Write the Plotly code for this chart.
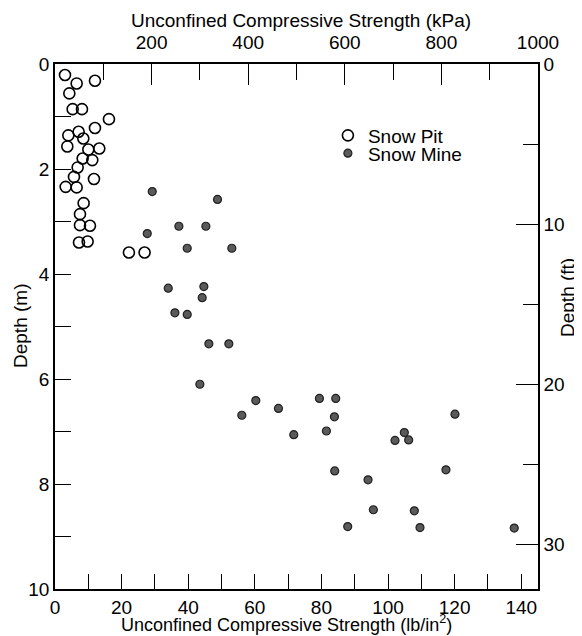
import plotly.graph_objects as go

# ---- data (lb/in^2, m) ----
pit_psi = [3.0, 6.5, 12.0, 4.3, 5.3, 8.1, 16.2, 4.0, 7.1, 12.0, 8.5, 3.7, 10.0, 13.3,
           8.3, 11.2, 6.8, 5.7, 11.7, 3.2, 6.5, 8.6, 7.5, 7.5, 10.5, 7.2, 9.8, 22.2, 26.9]
pit_depth = [0.21, 0.37, 0.32, 0.56, 0.86, 0.86, 1.05, 1.36, 1.29, 1.22, 1.42, 1.57, 1.63, 1.61,
             1.80, 1.83, 1.97, 2.15, 2.19, 2.34, 2.35, 2.65, 2.86, 3.07, 3.08, 3.40, 3.38, 3.59, 3.59]

mine_psi = [29.2, 48.8, 37.2, 45.3, 27.7, 39.7, 53.1, 34.0, 44.7, 44.2, 36.0, 39.7, 46.2, 52.2,
            43.5, 60.3, 56.1, 67.1, 79.4, 84.3, 83.9, 71.7, 81.5, 120.1, 102.1, 104.9, 106.2,
            84.0, 117.4, 94.0, 95.6, 107.9, 87.9, 109.6, 137.9]
mine_depth = [2.43, 2.58, 3.09, 3.09, 3.23, 3.51, 3.51, 4.27, 4.24, 4.45, 4.74, 4.77, 5.33, 5.33,
              6.10, 6.41, 6.69, 6.56, 6.37, 6.37, 6.72, 7.06, 6.99, 6.67, 7.17, 7.02, 7.16,
              7.75, 7.73, 7.92, 8.49, 8.51, 8.81, 8.83, 8.84]

kpa_ticks = [200, 400, 600, 800, 1000]
ft_ticks = [0, 10, 20, 30]

PSI_TO_KPA = 6.89476
M_TO_FT = 1 / 0.3048
KPA_MAX = 1000
PSI_MAX = KPA_MAX / PSI_TO_KPA
DEPTH_MAX = 10

FONT = "Liberation Sans, Arial, Helvetica, sans-serif"
FS = 19

# The page body adds an 8px offset, so the figure is 8px smaller than the window.
W, H = 574, 628
PL, PT, PR, PB = 47, 56, 44, 47          # plot area at page px x 55..538, y 64..589
AX0, AX1, AY0, AY1 = 55, 538, 64, 589


def xp(px):
    return (px - AX0) / (AX1 - AX0)


def yp(py):
    return 1 - (py - AY0) / (AY1 - AY0)


fig = go.Figure()
fig.add_trace(go.Scatter(
    x=pit_psi, y=pit_depth, mode="markers", name="Snow Pit", legend="legend",
    marker=dict(symbol="circle-open", size=11, color="black", line=dict(width=1.6, color="black")),
    xaxis="x", yaxis="y", hoverinfo="skip"))
fig.add_trace(go.Scatter(
    x=mine_psi, y=mine_depth, mode="markers", name="Snow Mine", legend="legend2",
    marker=dict(symbol="circle", size=8, color="#5a5a5a", line=dict(width=1.2, color="#202020")),
    xaxis="x", yaxis="y", hoverinfo="skip"))
# invisible companion trace so the secondary (kPa / ft) axes are drawn
fig.add_trace(go.Scatter(
    x=[v * PSI_TO_KPA for v in mine_psi], y=[d * M_TO_FT for d in mine_depth],
    mode="markers", marker=dict(opacity=0), showlegend=False, hoverinfo="skip",
    xaxis="x2", yaxis="y2"))

axis_common = dict(showgrid=False, zeroline=False, showline=True, linecolor="black",
                   linewidth=1.5, ticks="inside", tickcolor="black", tickwidth=1.3,
                   automargin=False,
                   tickfont=dict(family=FONT, size=FS, color="black"))

ann_font = dict(family=FONT, size=FS, color="black")

fig.update_layout(
    width=W, height=H,
    margin=dict(l=PL, r=PR, t=PT, b=PB),
    paper_bgcolor="white", plot_bgcolor="white",
    font=dict(family=FONT, size=FS, color="black"),
    xaxis=dict(**axis_common, range=[0, PSI_MAX], tick0=0, dtick=20, ticklen=15,
               ticklabelstandoff=0,
               minor=dict(ticks="inside", dtick=10, tick0=0, ticklen=15, tickcolor="black", tickwidth=1.3),
               anchor="y", side="bottom"),
    xaxis2=dict(**axis_common, range=[0, KPA_MAX], overlaying="x", side="top", anchor="y",
                tickmode="array", tickvals=kpa_ticks, ticktext=[str(v) for v in kpa_ticks], ticklen=21,
                ticklabelstandoff=6,
                minor=dict(ticks="inside", tickmode="linear", dtick=100, tick0=0, ticklen=16,
                           tickcolor="black", tickwidth=1.3)),
    yaxis=dict(**axis_common, range=[DEPTH_MAX, 0], tick0=0, dtick=2, ticklen=16,
               minor=dict(ticks="inside", dtick=1, tick0=0, ticklen=16, tickcolor="black", tickwidth=1.3),
               anchor="x", side="left"),
    yaxis2=dict(**axis_common, range=[DEPTH_MAX * M_TO_FT, 0], overlaying="y", side="right", anchor="x",
                tickmode="array", tickvals=ft_ticks, ticktext=[str(v) for v in ft_ticks], ticklen=22,
                minor=dict(ticks="inside", tickmode="linear", dtick=5, tick0=0, ticklen=15,
                           tickcolor="black", tickwidth=1.3)),
    legend=dict(x=0.565, y=0.900, xanchor="left", yanchor="top", bgcolor="rgba(0,0,0,0)",
                font=dict(family=FONT, size=FS)),
    legend2=dict(x=0.565, y=0.866, xanchor="left", yanchor="top", bgcolor="rgba(0,0,0,0)",
                 font=dict(family=FONT, size=FS)),
    annotations=[
        dict(text="Unconfined Compressive Strength (kPa)", xref="paper", yref="paper",
             x=xp(301), y=yp(21), showarrow=False, xanchor="center", yanchor="middle", font=ann_font),
        dict(text="Unconfined Compressive Strength (lb/in<sup>2</sup>)", xref="paper", yref="paper",
             x=xp(286), y=yp(623), showarrow=False, xanchor="center", yanchor="middle",
             font=dict(family=FONT, size=18, color="black")),
        dict(text="Depth (m)", textangle=-90, xref="paper", yref="paper",
             x=xp(20), y=yp(326), showarrow=False, xanchor="center", yanchor="middle", font=ann_font),
        dict(text="Depth (ft)", textangle=-90, xref="paper", yref="paper",
             x=xp(567), y=yp(298), showarrow=False, xanchor="center", yanchor="middle", font=ann_font),
    ],
)

fig.write_html("out.html")
